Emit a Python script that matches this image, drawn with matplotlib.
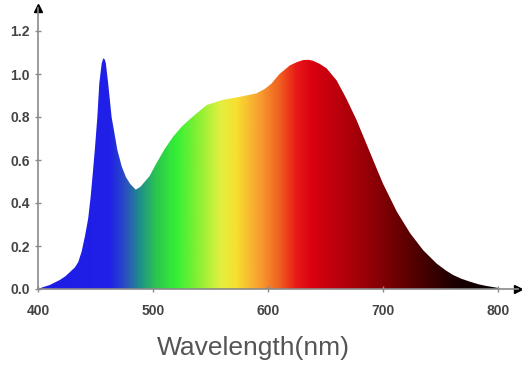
import numpy as np
import matplotlib
matplotlib.use("Agg")
import matplotlib.pyplot as plt
from matplotlib.colors import LinearSegmentedColormap

# spectrum (nm, relative intensity)
wavelength = [400, 404, 410, 419, 424, 428, 432, 435, 438, 441, 443.7, 445.8, 447.5,
              449.6, 451.6, 453.3, 455.4, 456.8, 458, 459, 461, 464, 469, 472.8, 476.5,
              480, 485, 489, 493, 497, 503, 510, 517.7, 525, 532, 546.7, 561, 575.6,
              590, 597, 603, 606, 610, 619, 625, 630.7, 635, 639, 645, 651, 659.7, 668,
              677, 686, 694.5, 700, 712, 723.5, 735, 746.7, 755, 761, 768, 775.6, 783,
              790, 800]
intensity = [0.0, 0.008, 0.018, 0.042, 0.06, 0.08, 0.10, 0.125, 0.175, 0.25, 0.33,
             0.43, 0.53, 0.66, 0.80, 0.957, 1.05, 1.073, 1.068, 1.05, 0.957, 0.80,
             0.647, 0.57, 0.52, 0.49, 0.462, 0.475, 0.50, 0.525, 0.585, 0.65, 0.71,
             0.755, 0.79, 0.856, 0.88, 0.894, 0.91, 0.93, 0.955, 0.975, 1.0, 1.04,
             1.055, 1.065, 1.066, 1.062, 1.047, 1.026, 0.97, 0.887, 0.786, 0.67, 0.56,
             0.49, 0.36, 0.26, 0.18, 0.118, 0.085, 0.065, 0.048, 0.034, 0.022, 0.014,
             0.005]

xticks = [400, 500, 600, 700, 800]
yticks = [0.0, 0.2, 0.4, 0.6, 0.8, 1.0, 1.2]

# colour stops along the wavelength axis
color_stops = [(400, "#1c1ce6"), (462, "#2020e8"), (476, "#2a50c0"), (488, "#1f8f8a"),
               (502, "#2cc450"), (520, "#34f034"), (540, "#8cf034"), (558, "#e0f040"),
               (572, "#f8e030"), (592, "#f8a030"), (610, "#f06020"), (625, "#e81818"),
               (640, "#d80010"), (680, "#a00008"), (720, "#600000"), (760, "#200000"),
               (800, "#000000")]

cmap = LinearSegmentedColormap.from_list(
    "spec", [((w - 400) / 400, c) for w, c in color_stops])

fig = plt.figure(figsize=(5.22, 3.66), dpi=100)
ax = fig.add_axes([38 / 522, 77 / 366, 480 / 522, 281 / 366])

x_right = 400 + 480 / 1.15
y_top = 281 / 215

poly = ax.fill_between(wavelength, intensity, 0, color="none", lw=0)
grad = np.linspace(0, 1, 800).reshape(1, -1)
im = ax.imshow(grad, cmap=cmap, extent=[400, 800, 0, 1.2], aspect="auto",
               origin="lower", zorder=1)
im.set_clip_path(poly.get_paths()[0], transform=ax.transData)
ax.set_xlim(400, x_right)
ax.set_ylim(0, y_top)

for s in ["top", "right"]:
    ax.spines[s].set_visible(False)
for s in ["left", "bottom"]:
    ax.spines[s].set_color("#8a8a8a")
    ax.spines[s].set_linewidth(1.2)

# arrow heads
ax.plot(1, 0, ">", color="black", ms=6, transform=ax.transAxes, clip_on=False)
ax.plot(0, 1, "^", color="black", ms=6, transform=ax.transAxes, clip_on=False)

ax.set_xticks(xticks)
ax.set_yticks(yticks)
ax.set_yticklabels([f"{v:.1f}" for v in yticks])
ax.tick_params(direction="inout", length=5, color="#8a8a8a", width=1,
               labelcolor="#444444", labelsize=10)
ax.tick_params(axis="x", pad=8)
for lab in ax.get_xticklabels() + ax.get_yticklabels():
    lab.set_fontfamily("Liberation Sans")
    lab.set_fontweight("bold")

fig.text(253 / 522, 1 - 348 / 366, "Wavelength(nm)", ha="center", va="center",
         fontsize=19, color="#555555", fontfamily="Liberation Sans")

fig.savefig("out.png", dpi=100)
